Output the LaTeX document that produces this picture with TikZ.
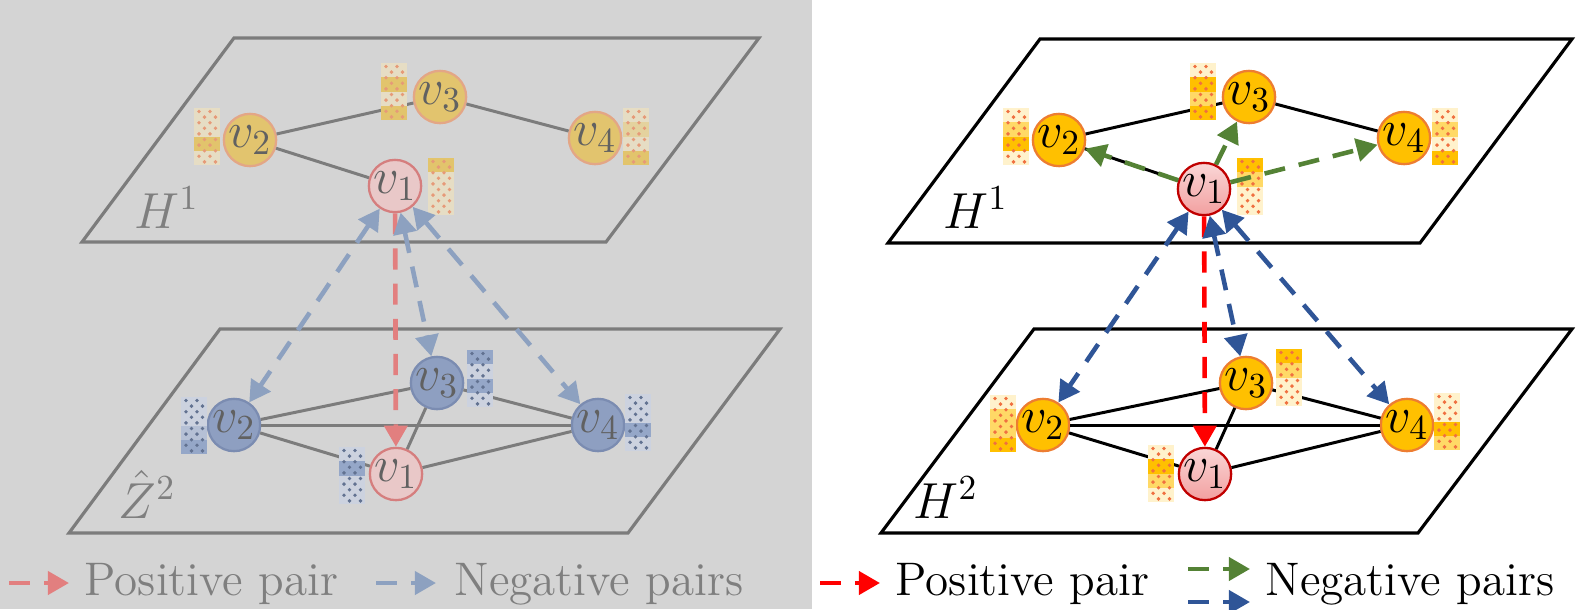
\documentclass[tikz,border=0pt]{standalone}
\usetikzlibrary{arrows.meta}

\definecolor{panelgray}{HTML}{D4D4D4}
\definecolor{fadeline}{HTML}{7C7C7C}
\definecolor{fadetext}{HTML}{7F7F7F}
\definecolor{fadeorange}{HTML}{E2C46E}
\definecolor{fadeorangeb}{HTML}{E3A686}
\definecolor{fadepink}{HTML}{E9C8C8}
\definecolor{fadepinkb}{HTML}{D57E7E}
\definecolor{fadeblue}{HTML}{8E9FC1}
\definecolor{fadeblueb}{HTML}{7B8CB1}
\definecolor{fadearrowblue}{HTML}{8DA1C0}
\definecolor{fadearrowred}{HTML}{E27F7F}
\definecolor{nodeorange}{HTML}{FFC000}
\definecolor{nodeorangeb}{HTML}{ED7D31}
\definecolor{pinktop}{HTML}{FAD6D6}
\definecolor{pinkbot}{HTML}{F2A0A0}
\definecolor{nodepinkb}{HTML}{C00000}
\definecolor{arrowblue}{HTML}{2F5597}
\definecolor{arrowgreen}{HTML}{548235}
\definecolor{arrowred}{HTML}{FF0000}
\definecolor{barL}{HTML}{FFF2CC}
\definecolor{barM}{HTML}{FFD966}
\definecolor{barD}{HTML}{FFC000}
\definecolor{bardot}{HTML}{F07040}
\definecolor{fbarL}{HTML}{E6DDC4}
\definecolor{fbarM}{HTML}{E4D29E}
\definecolor{fbarD}{HTML}{E2C46C}
\definecolor{fbardot}{HTML}{E69A78}
\definecolor{bbarL}{HTML}{CCD2DF}
\definecolor{bbarM}{HTML}{B5C0D5}
\definecolor{bbarD}{HTML}{95A7C8}
\definecolor{bbardot}{HTML}{627291}

% feature bar: x, y (top left), four segment colours, dot colour
\newcommand{\featbar}[7]{%
  \fill[#3] (#1,#2) rectangle ++(26,14.25);
  \fill[#4] (#1,#2+14.25) rectangle ++(26,14.25);
  \fill[#5] (#1,#2+28.5) rectangle ++(26,14.25);
  \fill[#6] (#1,#2+42.75) rectangle ++(26,14.25);
  \foreach \r in {0,2,...,8}
    \foreach \c in {5,16}
      \fill[#7] (#1+\c,#2+3.5+5.6*\r) circle (0.55pt);
  \foreach \r in {1,3,...,9}
    \foreach \c in {10.5,21.5}
      \fill[#7] (#1+\c,#2+3.5+5.6*\r) circle (0.55pt);
}

\tikzset{
  vtx/.style={circle, minimum size=0.46cm, inner sep=0pt, line width=0.65pt, font=\fontsize{14}{16}\selectfont},
  rnode/.style={vtx, draw=nodeorangeb, fill=nodeorange},
  rnodeone/.style={vtx, draw=nodepinkb, top color=pinktop, bottom color=pinkbot},
  lnodeup/.style={vtx, draw=fadeorangeb, fill=fadeorange, text=black!62},
  lnodedown/.style={vtx, draw=fadeblueb, fill=fadeblue, text=black!62},
  lnodeone/.style={vtx, draw=fadepinkb, fill=fadepink, text=black!62},
  redge/.style={draw=black, line width=0.85pt},
  ledge/.style={draw=fadeline, line width=0.85pt},
  pairarrow/.style={line width=1.3pt, dash pattern=on 6pt off 4pt, >={Triangle[length=6pt,width=6.5pt]}},
  lbl/.style={anchor=base west, inner sep=0pt, font=\fontsize{14}{16}\selectfont},
  legendtxt/.style={anchor=base west, inner sep=0pt, font=\fontsize{13.4}{16}\selectfont}
}

\begin{document}
\begin{tikzpicture}[x=0.01cm, y=-0.01cm]
    \useasboundingbox (0,0) rectangle (1582,609);
    \fill[panelgray] (0,0) rectangle (812,609);

    \draw[ledge, line width=0.9pt] (82,242) -- (234,38) -- (759,38) -- (606,242) -- cycle;
    \draw[ledge, line width=0.9pt] (69,533) -- (220,329) -- (780,329) -- (628,533) -- cycle;
    \draw[redge, line width=0.9pt] (888,243) -- (1040,39) -- (1572,39) -- (1420,243) -- cycle;
    \draw[redge, line width=0.9pt] (881,533) -- (1034,329) -- (1572,329) -- (1418,533) -- cycle;

    \node[lbl, text=fadetext] (LHa) at (134,228) {$H^1$};
    \node[lbl, text=fadetext] (LZb) at (118,518) {$\hat{Z}^2$};
    \node[lbl] (RHa) at (943,228) {$H^1$};
    \node[lbl] (RHb) at (913,518) {$H^2$};

    \node[lnodeone] (LU1) at (395,186) {$v_1$};
    \node[lnodeup] (LU2) at (250,140) {$v_2$};
    \node[lnodeup] (LU3) at (440,97) {$v_3$};
    \node[lnodeup] (LU4) at (595,138) {$v_4$};
    \node[lnodeone] (LD1) at (396,474) {$v_1$};
    \node[lnodedown] (LD2) at (234,425) {$v_2$};
    \node[lnodedown] (LD3) at (437,383) {$v_3$};
    \node[lnodedown] (LD4) at (598,425) {$v_4$};

    \node[rnodeone] (RU1) at (1204,189) {$v_1$};
    \node[rnode] (RU2) at (1059,140) {$v_2$};
    \node[rnode] (RU3) at (1249,97) {$v_3$};
    \node[rnode] (RU4) at (1404,138) {$v_4$};
    \node[rnodeone] (RD1) at (1205,474) {$v_1$};
    \node[rnode] (RD2) at (1043,425) {$v_2$};
    \node[rnode] (RD3) at (1246,383) {$v_3$};
    \node[rnode] (RD4) at (1407,425) {$v_4$};

    \draw[ledge] (LU2) -- (LU3);
    \draw[ledge] (LU2) -- (LU1);
    \draw[ledge] (LU3) -- (LU4);
    \draw[ledge] (LD2) -- (LD3);
    \draw[ledge] (LD2) -- (LD4);
    \draw[ledge] (LD2) -- (LD1);
    \draw[ledge] (LD1) -- (LD3);
    \draw[ledge] (LD1) -- (LD4);
    \draw[ledge] (LD3) -- (LD4);

    \draw[redge] (RU2) -- (RU3);
    \draw[redge] (RU2) -- (RU1);
    \draw[redge] (RU3) -- (RU4);
    \draw[redge] (RD2) -- (RD3);
    \draw[redge] (RD2) -- (RD4);
    \draw[redge] (RD2) -- (RD1);
    \draw[redge] (RD1) -- (RD3);
    \draw[redge] (RD1) -- (RD4);
    \draw[redge] (RD3) -- (RD4);

    \featbar{194}{108}{fbarL}{fbarL}{fbarD}{fbarL}{fbardot}
    \featbar{381}{63}{fbarL}{fbarD}{fbarL}{fbarD}{fbardot}
    \featbar{428}{158}{fbarD}{fbarL}{fbarL}{fbarL}{fbardot}
    \featbar{623}{108}{fbarL}{fbarM}{fbarL}{fbarD}{fbardot}
    \featbar{181}{397}{bbarL}{bbarL}{bbarM}{bbarD}{bbardot}
    \featbar{467}{350}{bbarD}{bbarL}{bbarD}{bbarL}{bbardot}
    \featbar{339}{447}{bbarL}{bbarD}{bbarL}{bbarL}{bbardot}
    \featbar{625}{394}{bbarL}{bbarL}{bbarD}{bbarL}{bbardot}

    \featbar{1003}{108}{barL}{barM}{barD}{barL}{bardot}
    \featbar{1190}{63}{barL}{barD}{barM}{barD}{bardot}
    \featbar{1237}{158}{barD}{barM}{barL}{barL}{bardot}
    \featbar{1432}{108}{barL}{barM}{barL}{barD}{bardot}
    \featbar{990}{395}{barL}{barM}{barM}{barD}{bardot}
    \featbar{1276}{349}{barD}{barM}{barL}{barL}{bardot}
    \featbar{1148}{445}{barL}{barD}{barM}{barL}{bardot}
    \featbar{1434}{393}{barL}{barL}{barD}{barM}{bardot}

    \draw[pairarrow, fadearrowred, ->] (LU1) -- (LD1);
    \draw[pairarrow, fadearrowblue, <->] (LU1) -- (LD2);
    \draw[pairarrow, fadearrowblue, <->] (LU1) -- (LD3);
    \draw[pairarrow, fadearrowblue, <->] (LU1) -- (LD4);

    \draw[pairarrow, arrowred, ->] (RU1) -- (RD1);
    \draw[pairarrow, arrowblue, <->] (RU1) -- (RD2);
    \draw[pairarrow, arrowblue, <->] (RU1) -- (RD3);
    \draw[pairarrow, arrowblue, <->] (RU1) -- (RD4);
    \draw[pairarrow, arrowgreen, ->] (RU1) -- (RU2);
    \draw[pairarrow, arrowgreen, ->] (RU1) -- (RU3);
    \draw[pairarrow, arrowgreen, ->] (RU1) -- (RU4);

    \coordinate (LPa) at (9,583);
    \coordinate (LPb) at (69,583);
    \coordinate (LNa) at (376,583);
    \coordinate (LNb) at (436,583);
    \coordinate (RPa) at (820,583);
    \coordinate (RPb) at (880,583);
    \coordinate (RGa) at (1188,569);
    \coordinate (RGb) at (1250,569);
    \coordinate (RBa) at (1188,602);
    \coordinate (RBb) at (1250,602);
    \draw[pairarrow, fadearrowred, ->] (LPa) -- (LPb);
    \draw[pairarrow, fadearrowblue, ->] (LNa) -- (LNb);
    \draw[pairarrow, arrowred, ->] (RPa) -- (RPb);
    \draw[pairarrow, arrowgreen, ->] (RGa) -- (RGb);
    \draw[pairarrow, arrowblue, ->] (RBa) -- (RBb);
    \node[legendtxt, text=fadetext] (LPt) at (84,595) {Positive pair};
    \node[legendtxt, text=fadetext] (LNt) at (454,595) {Negative pairs};
    \node[legendtxt] (RPt) at (895,595) {Positive pair};
    \node[legendtxt] (RNt) at (1265,595) {Negative pairs};
\end{tikzpicture}
\end{document}
